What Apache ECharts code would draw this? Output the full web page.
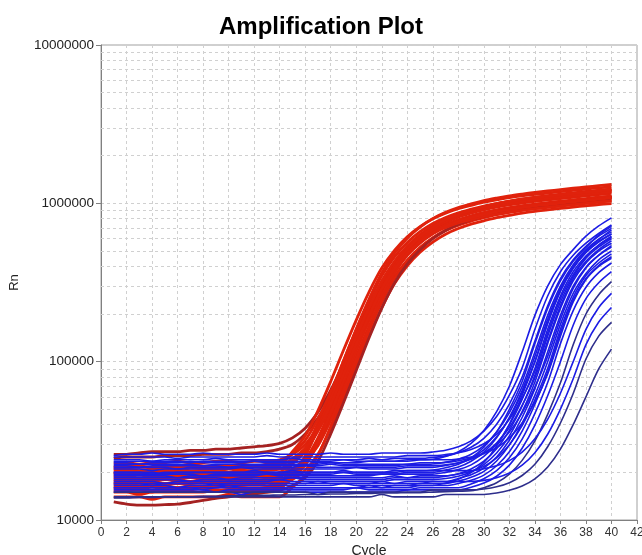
<!DOCTYPE html>
<html>
<head>
<meta charset="utf-8">
<script src="https://cdn.jsdelivr.net/npm/echarts@6/dist/echarts.min.js"></script>
<style>html,body{margin:0;padding:0;background:#fff;overflow:hidden;}#chart{width:642px;height:555px;}</style>
</head>
<body>
<div id="chart"></div>
<script>
// Cycle numbers (x values)
const cycles = [1,2,3,4,5,6,7,8,9,10,11,12,13,14,15,16,17,18,19,20,21,22,23,24,25,26,27,28,29,30,31,32,33,34,35,36,37,38,39,40];
const xTicks = [0,2,4,6,8,10,12,14,16,18,20,22,24,26,28,30,32,34,36,38,40,42];
const yMajorTicks = [10000, 100000, 1000000, 10000000];
const yMinorGrid = [20000,30000,40000,50000,60000,70000,80000,90000,200000,300000,400000,500000,600000,700000,800000,900000,2000000,3000000,4000000,5000000,6000000,7000000,8000000,9000000];
const UNIT = 1000; // values below are Rn in thousands

// Red sample curves (Rn, thousands), cycles 1..40
const red01 = [26,26,26.5,27,27,27,27.5,27.5,28,28,28.5,29,29.5,30.5, 33,38,48,66,98,150,225,320,420,515,600,675,735,785,830,870,900,930,955,975,995,1015,1035,1055,1075,1095];
const red02 = [24.5,25,25,25,25.5,25.5,25.5,26,26,26,26.5,26.5,27,28, 30,35,44,60,90,136,205,300,400,495,585,660,725,775,820,860,895,925,950,970,990,1010,1030,1050,1070,1085];
const red03 = [23,23,22.5,23,23,23.5,23,23,23.5,23.5,23,23.5,23.5,24, 26,30,39,56,86,132,199,294,394,494,584,664,729,784,829,869,904,934,959,984,1004,1024,1044,1064,1084,1104];
const red04 = [21,21,20.5,21,21,21,21.5,21,21,21.5,21,21.5,21.5,22, 27,34,49,75,118,183,275,390,505,615,712,798,867,925,971,1017,1051,1086,1115,1138,1161,1184,1207,1230,1253,1276];
const red05 = [20,19.5,20,20,20,20.5,20,20,20.5,20,20,20.5,20.5,21, 23,27,37,55,86,134,205,305,410,515,609,693,761,819,866,908,945,977,1003,1029,1050,1071,1092,1113,1134,1155];
const red06 = [19,19,18.5,19,19,19,19.5,19,19,19,18.5,19,19,19.5, 21,24.5,31,45,69,108,166,248,343,438,526,605,673,728,773,811,847,876,903,926,945,964,983,1002,1021,1037];
const red07 = [18,18,18,17.5,18,18,18.5,18,18,18,18.5,18,18,18.5, 22.6,28,41,63.5,101,159,241,349,459,566,662,746,814,872,918,962,997,1030,1058,1082,1104,1126,1148,1170,1192,1214];
const red08 = [17,17,16.5,17,17,17,17,17.5,17,17,17,17,17.5,17.5, 20,24,33,50,80,126,193,288,388,488,578,658,723,778,823,863,898,928,953,978,998,1018,1038,1058,1078,1098];
const red09 = [16,16,16,15.5,16,16,16,16,16.5,16,16,16,16,16.5, 18,20.6,26,38,59,93,146,219,311,403,491,569,638,693,739,776,813,840,868,891,909,928,946,965,983,997];
const red10 = [15.5,15.5,15.5,15,15.5,15.5,15.5,16,15.5,15.5,15.5,15.5,15.5,16, 18.3,22.2,30.5,46.5,77,122,190,286,394,502,601,690,765,826,877,920,960,992,1022,1049,1070,1092,1113,1135,1157,1176];
const red11 = [15,15,14.5,15,15,15,15,15,15.5,15,15,15,15,15.5, 19.6,25.3,38,61,101,161,248,364,484,602,707,801,877,940,992,1040,1079,1115,1145,1173,1197,1221,1245,1269,1293,1317];
const red12 = [14,14,14,13.5,14,14,14,14,14,14.5,14,14,14,14, 16.1,19.2,25.6,39,62.5,100,158,238,335,432,523,605,676,733,780,819,857,886,914,938,958,977,997,1016,1035,1051];
const red13 = [13,12.6,12.4,12.4,12.5,12.6,12.9,13.3,13.7,14,14.3,14.6,15,15.4, 16.5,18.5,23.5,35,55,88,141,218,314,414,510,598,674,737,789,831,871,903,933,959,980,1000,1020,1040,1060,1076];
const red14 = [20.5,20.5,20,20.5,20.5,21,20.5,20.5,20.5,21,20.5,20.5,21,21, 23.5,27.5,36.5,53,82,127,193,288,390,491,583,664,730,786,832,873,908,939,965,990,1011,1031,1052,1072,1093,1110];
const red15 = [22,22,22,21.5,22,22,22.5,22,22,22,22.5,22,22.5,23, 26.4,31.8,43.5,64,97,148,221,313,406,496,577,648,704,751,789,827,855,883,906,925,944,962,981,999,1018,1035];
const red16 = [18.5,18.5,18,18.5,18.5,18.5,19,18.5,18.5,18.5,18.5,19,18.5,19, 20.4,23.4,29.4,42.5,65.5,104,164,252,361,475,585,685,772,843,903,951,996,1033,1067,1096,1120,1143,1166,1189,1212,1230];
const red17 = [17.5,17.5,17.5,17.5,17,17.5,17.5,17.5,17.5,18,17.5,17.5,17.5,18, 20,23.7,31.5,46.5,74.5,117,180,269,369,469,561,643,712,769,816,856,893,923,950,975,995,1015,1035,1055,1075,1093];
const red18 = [19.5,19.5,19.5,19,19.5,19.5,19.5,19.5,19.5,19.5,20,19.5,19.5,20, 23,27.7,38.4,58,91.5,144,220,323,431,538,635,720,789,846,895,938,975,1007,1034,1059,1081,1102,1124,1145,1167,1189];
const red19 = [16.5,16.5,16.5,16.5,16.5,16,16.5,16.5,16.5,16.5,16.5,17,16.5,17, 19.2,23,31,47.4,76,122,191,287,399,511,615,708,788,853,906,951,994,1027,1059,1087,1109,1131,1154,1176,1199,1218];
const red20 = [21.5,21.5,21.5,21.5,22,21.5,21.5,21.5,21.5,21.5,21.5,22,21.5,22, 24.4,28.4,37.2,54,83,129,194,288,386,484,572,650,714,768,812,851,885,915,939,964,983,1003,1023,1042,1062,1081];

// Blue sample curves (Rn, thousands), cycles 1..40
const blue01 = [25.5,26,26,26.5,26,26,26,26.5,26,26,26,26,26.5,26,26,26,26,26.5,26,26,26,26.5,26.5,26.5,26.5, 26.9,27.6,29,31.6,36.4,45,61.4,91.4,160,260,370,470,560,645,730];
const blue02 = [23,23,22.5,23,23,23,23.5,23,23,23,23,23.5,23,23,23,23.5,23,23,23,23,23.5,23.5,23.5,23.5,24, 24.2,25.2,27,30.5,36.8,48.4,70,115,196,300,410,510,620,720,810];
const blue03 = [24,24,24,23.5,24,24,24,24,24.5,24,24,24,24,24,24.5,24,24,24,24,24,24.5,24,24.5,24.5,24.5, 24.8,25.4,26.6,28.8,32.8,40.3,54,80,135,225,335,440,535,620,695];
const blue04 = [22,22,21.5,22,22,22,22,22,22,21.5,22,22,22,22,22,22,22,22.5,22,22,22,22,22,22.5,22.5, 22.6,23.2,24.2,26,29.5,36,47.7,69.6,115,196,300,410,510,595,660];
const blue05 = [21,21,21,20.5,21,21,21,21,21,21,21.5,21,21,21,21,21,21,21,21,21.5,21,21,21,21.5,21.5,21.5, 22.1,23,24.6,27.7,33.5,43.9,63.7,100,175,280,390,490,575,640];
const blue06 = [20,20,20,20,19.5,20,20,20,20,20,20,20.5,20,20,20,20,20,20,20.5,20,20,20,20.5,20.5,20.5, 20.7,21.4,22.5,24.7,28.8,36,50,75,130,217,324,430,526,630,715];
const blue07 = [19,19,19,19,19,18.5,19,19,19,19,19,19,19.5,19,19,19,19,19,19,19,19,19.5,19.5,19.5,19.5,19.5, 20,20.8,22.3,25.2,30.3,39.9,57.7,90.6,160,260,370,465,545,610];
const blue08 = [18,18,18,18,18,18,17.5,18,18,18,18,18,18,18,18.5,18,18,18,18,18,18,18,18.5,18.5,18.5,18.5, 18.9,19.6,21,23.5,28.2,36.8,52.5,82,145,238,346,450,530,600];
const blue09 = [17.5,17.5,17.5,17.5,17,17.5,17.5,17.5,17.5,17.5,17.5,17.5,17.5,18,17.5,17.5,17.5,17.5,17.5,17.5,17.5,17.5,18,18,18,18, 18.3,18.9,20.1,22.4,26.5,34,48.3,74.5,130,217,324,420,500,560];
const blue10 = [17,17,17,16.5,17,17,17,17,17,17,17,17,17,17,17,17,17.5,17,17,17,17,17,17,17.5,17.5,17.5,17.5, 18.3,19.3,21.3,25,31.9,44.4,67.6,115,196,300,395,470,530];
const blue11 = [16.5,16.5,16.5,16.5,16.5,16,16.5,16.5,16.5,16.5,16.5,16.5,16.5,16.5,16.5,16.5,16.5,16.5,17,16.5,16.5,16.5,16.5,16.5,17,17,17, 17.6,18.6,20.3,23.6,29.7,40.7,61.5,100,172,270,360,440,500];
const blue12 = [16,16,16,16,16,16,16,15.5,16,16,16,16,16,16,16,16,16,16,16,16,16.5,16,16,16,16.5,16.5,16.5, 17,17.8,19.2,22,27,36.4,53.8,85.8,152,245,335,405,460];
const blue13 = [25,25,25,25,25,24.5,25,25,25,25,25,25,25.5,25,25,25,25,25,25,25,25,25,25,25.5,25.5, 25.5,25.9,26.6,27.9,30.3,34.8,43.2,58.8,87,152,250,355,460,545,620];
const blue14 = [15.5,15.5,15.5,15.5,15.5,15.5,15.5,15.5,15,15.5,15.5,15.5,15.5,15.5,15.5,15.5,15.5,15.5,15.5,16,15.5,15.5,15.5,15.5,16,16,16,16, 16.9,18.2,20.5,24.7,32.4,47.1,73.8,130,210,295,365,420];
const blue15 = [15,15,15,15,15,15,15,15,15,15,14.5,15,15,15,15,15,15,15,15,15,15,15,15,15.5,15.5,15.5,15.5,15.5, 16.1,17.1,18.9,22.2,28.4,39.7,60.9,100,170,250,315,370];
const blue16 = [13.8,13.8,13.9,13.9,14,14,14,14.1,14.1,14.2,14.2,14.3,14.3,14.4,14.4,14.5,14.5,14.6,14.6,14.7,14.7,14.8,14.8,14.9,14.9,15,15.1,15.2, 15.3,16,17.2,19.5,23.8,31.6,46.5,73.5,128,200,265,320];
const blue17 = [20,20,20,19.5,20,20,20,20,20,20,20,20,20,20,20.5,20,20,20,20,20,20,20,20,20.5,20.5,20.5,20.5,20.5,20.5, 21.1,22,23.7,26.8,32.6,43.2,63.2,100,160,220,270];
const blue18 = [17,17,17,17,17,17,17,17,16.5,17,17,17,17,17,17,17,17,17,17,17,17,17.5,17,17,17,17.5,17.5,17.5,17.5, 17.8,18.5,19.8,22.2,26.6,34.8,50.2,78,128,178,220];
const blue19 = [15,15,15,15,15,15,15,15,15,15,15,15,15,15,15,15,14.5,15,15,15,15,15,15,15,15,15.5,15.5,15.5,15.5, 15.7,16.2,17.2,19.1,22.5,29,41,63,104,145,177];
const blue20 = [14,14,14,14,14,14,14,14,14,14,14,14,14,14,14,14,14,14,14,14,14,14.5,14,14,14,14,14.5,14.5,14.5,14.5, 14.8,15.4,16.4,18.2,21.6,28,40,60,90,120];
const blue21 = [22.5,22.5,22.5,22.5,22.5,22.5,22.5,22,22.5,22.5,22.5,22.5,22.5,22.5,22.5,22.5,22.5,23,22.5,22.5,22.5,22.5,22.5,22.5,23,23, 23.1,23.7,24.6,26.5,29.8,36,47.5,69,108,185,290,390,470,540];
const blue22 = [18.5,18.5,18.5,18.5,18.5,18.5,18.5,18.5,18.5,18,18.5,18.5,18.5,18.5,18.5,18.5,18.5,18.5,18.5,18.5,18.5,18.5,19,18.5,19,19,19, 19.5,20.3,21.8,24.7,29.9,39.5,57.5,90.5,160,255,350,420,480];
const blue23 = [21.5,21.5,21.5,21.5,21.5,21,21.5,21.5,21.5,21.5,21.5,21.5,21.5,21.5,21.5,22,21.5,21.5,21.5,21.5,21.5,21.5,21.5,22,22,22, 22.3,22.9,24.2,26.4,30.6,38.4,52.9,79.2,135,225,335,430,510,580];
const blue24 = [16,16,16,16,16,16,16,16,16,16.5,16,16,16,16,16,16,16,16,16,16,16,16,16.5,16.5,16.5,16.5, 17.1,18.1,19.9,23.1,29.3,40.4,61.4,100,175,280,390,490,570,640];
const blue25 = [23.5,23.5,23.5,23.5,23.5,23.5,23,23.5,23.5,23.5,23.5,23.5,23.5,23.5,23.5,23.5,23.5,23.5,24,23.5,23.5,23.5,23.5,24,24,24,24, 24.3,25,26.3,28.6,33,41,55.5,83.5,145,238,330,400,450];
const blue26 = [19.5,19.5,19.5,19.5,19.5,19.5,19.5,19,19.5,19.5,19.5,19.5,19.5,19.5,19.5,19.5,19.5,19.5,20,19.5,19.5,19.5,19.5,20,20,20, 20.7,21.6,23.5,26.8,33,44.5,65.8,108,185,290,400,500,590,680];

const redCurves = {red01,red02,red03,red04,red05,red06,red07,red08,red09,red10,red11,red12,red13,red14,red15,red16,red17,red18,red19,red20};
const blueCurves = {blue01,blue02,blue03,blue04,blue05,blue06,blue07,blue08,blue09,blue10,blue11,blue12,blue13,blue14,blue15,blue16,blue17,blue18,blue19,blue20,blue21,blue22,blue23,blue24,blue25,blue26};
const darkRed = ['red01','red02','red13'];
const darkBlue = ['blue16','blue19','blue20'];

for (const [k, a] of Object.entries({...redCurves, ...blueCurves})) {
  if (a.length !== cycles.length) throw new Error(k + ' has ' + a.length + ' values');
}

const FONT = 'Liberation Sans, Arial, sans-serif';
const series = [];
series.push({
  type: 'line', data: [], silent: true, z: 1,
  markLine: {
    silent: true, symbol: ['none','none'], z: 1, animation: false,
    label: {show: false},
    lineStyle: {type: [3,3], color: '#d0d0d0', width: 1},
    data: yMinorGrid.map(v => ({yAxis: v}))
  }
});
function addCurve(name, arr, color, width) {
  series.push({
    type: 'line', name: name, silent: true, z: 3,
    showSymbol: false, symbol: 'none', smooth: 0.3,
    data: cycles.map((c, i) => [c, arr[i] * UNIT]),
    lineStyle: {color: color, width: width}
  });
}
for (const [k, a] of Object.entries(redCurves)) addCurve(k, a, darkRed.includes(k) ? '#a52222' : '#e0220c', 2.8);
for (const [k, a] of Object.entries(blueCurves)) addCurve(k, a, darkBlue.includes(k) ? '#2e2e8c' : '#1c1ce4', 1.6);

const chart = echarts.init(document.getElementById('chart'), null, {renderer: 'canvas'});
chart.setOption({
  animation: false,
  backgroundColor: '#fff',
  title: {
    text: 'Amplification Plot', left: 'center', top: 10,
    textStyle: {fontFamily: FONT, fontSize: 24, fontWeight: 'bold', color: '#000'}
  },
  grid: {left: 101, right: 5, top: 45, bottom: 35, outerBoundsMode: 'none', containLabel: false,
         show: true, borderColor: '#a0a0a0', borderWidth: 1, backgroundColor: 'transparent'},
  xAxis: {
    type: 'value', min: xTicks[0], max: xTicks[xTicks.length - 1], interval: 2,
    name: 'Cycle', nameLocation: 'middle', nameGap: 22,
    nameTextStyle: {fontFamily: FONT, fontSize: 14, color: '#222'},
    axisLine: {lineStyle: {color: '#808080'}},
    axisTick: {show: true, length: 4, lineStyle: {color: '#808080'}},
    axisLabel: {fontFamily: FONT, fontSize: 12, color: '#333', margin: 7},
    splitLine: {show: true, lineStyle: {type: [3,3], color: '#d0d0d0'}}
  },
  yAxis: {
    type: 'log', logBase: 10, min: yMajorTicks[0], max: yMajorTicks[yMajorTicks.length - 1],
    name: 'Rn', nameLocation: 'middle', nameGap: 80,
    nameTextStyle: {fontFamily: FONT, fontSize: 13, color: '#222'},
    axisLine: {show: true, lineStyle: {color: '#808080'}},
    axisTick: {show: true, length: 5, lineStyle: {color: '#808080'}},
    axisLabel: {fontFamily: FONT, fontSize: 13.5, color: '#222', margin: 7, formatter: v => String(Math.round(v))},
    splitLine: {show: true, lineStyle: {type: [3,3], color: '#d0d0d0'}}
  },
  series: series
});
</script>
</body>
</html>
